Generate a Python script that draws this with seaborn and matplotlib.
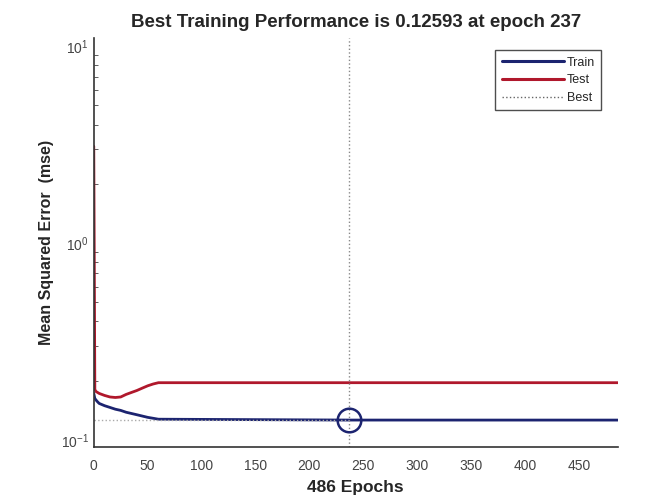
import matplotlib
matplotlib.use("Agg")
import matplotlib.pyplot as plt
import numpy as np
import pandas as pd
import seaborn as sns

# Curvas de entrenamiento
train_epochs = [0, 1, 3, 5, 10, 15, 20, 25, 30, 40, 50, 60, 237, 486]
train_mse = [0.172, 0.162, 0.157, 0.153, 0.149, 0.146, 0.143, 0.141, 0.138,
             0.134, 0.130, 0.1272, 0.12593, 0.1259]

test_epochs = [0, 1, 2, 5, 10, 15, 20, 25, 30, 35, 40, 45, 50, 55, 60, 486]
test_mse = [3.1, 0.18, 0.176, 0.172, 0.168, 0.165, 0.164, 0.165, 0.170,
            0.174, 0.178, 0.183, 0.188, 0.192, 0.195, 0.195]

best_epoch = 237
best_perf = 0.12593
n_epochs = 486

sns.set_style("white")
plt.rcParams["font.family"] = ["Liberation Sans", "DejaVu Sans"]

df = pd.concat([
    pd.DataFrame({"epoch": train_epochs, "mse": train_mse, "set": "Train"}),
    pd.DataFrame({"epoch": test_epochs, "mse": test_mse, "set": "Test"}),
])
palette = {"Train": "#1c2470", "Test": "#b0182c"}

fig = plt.figure(figsize=(6.65, 5.01), dpi=100)
ax = fig.add_axes([0.141, 0.108, 0.788, 0.816])

sns.lineplot(data=df, x="epoch", y="mse", hue="set", palette=palette,
             linewidth=2, ax=ax, legend=False, estimator=None, sort=False)

ax.set_yscale("log")
ax.set_xlim(0, n_epochs)
ax.set_ylim(0.092, 11)

# Marcadores del mejor epoch
ax.axvline(best_epoch, color="#888888", linestyle=":", linewidth=1)
ax.plot([0, best_epoch], [best_perf, best_perf], color="#aaaaaa",
        linestyle=":", linewidth=1)
ax.plot(best_epoch, best_perf, marker="o", markersize=17,
        markerfacecolor="none", markeredgecolor="#1c2470", markeredgewidth=1.8)

ax.plot([], [], color=palette["Train"], linewidth=2.2, label="Train")
ax.plot([], [], color=palette["Test"], linewidth=2.2, label="Test")
ax.plot([], [], color="#666666", linestyle=":", linewidth=1, label="Best")
leg = ax.legend(loc="upper right", fontsize=9, frameon=True, fancybox=False,
                handlelength=5.0, handletextpad=0.2, borderpad=0.5,
                labelspacing=0.45, bbox_to_anchor=(0.98, 0.985))
leg.get_frame().set_edgecolor("#222222")
leg.get_frame().set_linewidth(1)

ax.set_xticks(np.arange(0, 451, 50))
ax.tick_params(axis="both", which="both", direction="in", labelsize=10,
               colors="#444444")
ax.tick_params(axis="both", which="major", length=5)
ax.tick_params(axis="x", pad=9)
ax.tick_params(axis="y", which="minor", length=3, left=True)
for s in ["top", "right"]:
    ax.spines[s].set_visible(False)
for s in ["left", "bottom"]:
    ax.spines[s].set_color("#333333")
    ax.spines[s].set_linewidth(1.2)

ax.set_title(f"Best Training Performance is {best_perf} at epoch {best_epoch}",
             fontsize=13.5, fontweight="bold", pad=8)
ax.set_xlabel(f"{n_epochs} Epochs", fontsize=12.5, fontweight="bold",
              labelpad=5)
ax.set_ylabel("Mean Squared Error  (mse)", fontsize=11.5, fontweight="bold",
              labelpad=5)

fig.savefig("out.png", dpi=100)
